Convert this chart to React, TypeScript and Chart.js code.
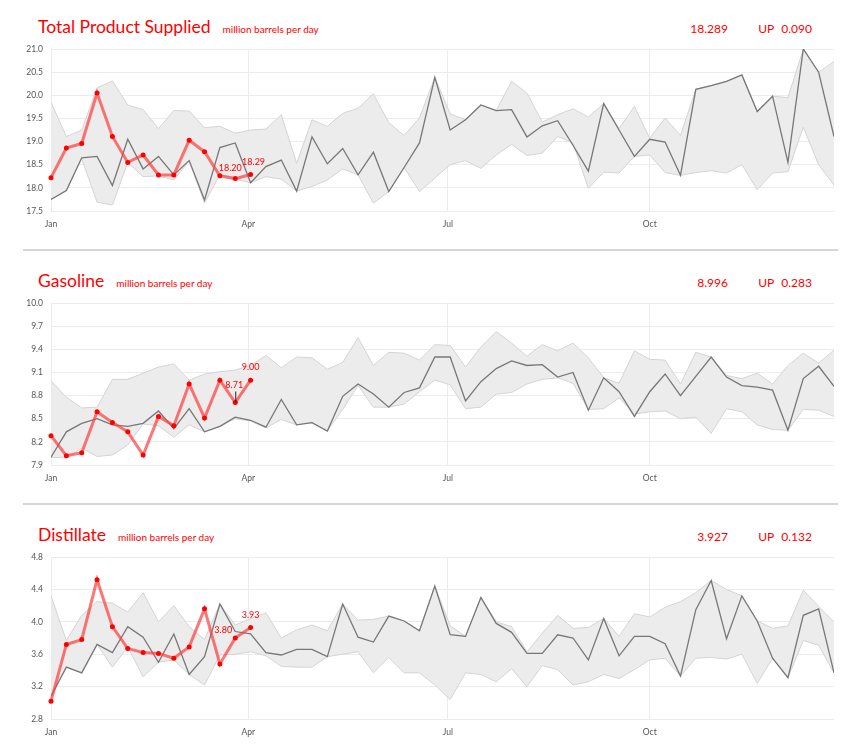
import { useEffect, useRef } from 'react'
import { Chart, registerables } from 'chart.js'

Chart.register(...registerables)

// x positions are days since Jan 1, one point per week
const WEEK_DAYS = 7
const MONTH_DAYS = [0, 90, 181, 273]
const MONTH_LABELS = ['Jan', 'Apr', 'Jul', 'Oct']

const TITLES = ['Total Product Supplied', 'Gasoline', 'Distillate']
const UNIT = 'million barrels per day'
const HEAD_VALUES = ['18.289', '8.996', '3.927']
const HEAD_CHANGES = ['0.090', '0.283', '0.132']

// Total product supplied
const TPS_TICKS = [17.5, 18.0, 18.5, 19.0, 19.5, 20.0, 20.5, 21.0]
const TPS_THIS = [18.22, 18.86, 18.96, 20.05, 19.11, 18.55, 18.71, 18.28, 18.28, 19.03, 18.78, 18.26, 18.20, 18.29]
const TPS_LAST = [17.75, 17.94, 18.65, 18.68, 18.05, 19.05, 18.41, 18.68, 18.28, 18.59, 17.74, 18.87, 18.97, 18.11, 18.46, 18.60, 17.93, 19.10, 18.52, 18.85, 18.28, 18.77, 17.92, 18.44, 18.97, 20.39, 19.25, 19.47, 19.79, 19.67, 19.69, 19.10, 19.34, 19.45, 18.92, 18.36, 19.82, 19.25, 18.68, 19.05, 18.99, 18.27, 20.13, 20.21, 20.30, 20.44, 19.65, 19.98, 18.55, 21.0, 20.50, 19.11]
const TPS_MAX = [19.85, 19.11, 19.25, 20.16, 20.31, 19.79, 19.69, 19.28, 19.67, 19.66, 19.30, 19.33, 19.18, 19.25, 19.27, 19.58, 18.53, 19.47, 19.33, 19.61, 19.72, 20.03, 19.41, 19.13, 19.51, 20.39, 19.60, 19.47, 19.79, 19.67, 20.30, 20.05, 19.42, 19.58, 19.71, 19.53, 19.82, 19.28, 19.76, 19.07, 19.51, 19.13, 20.13, 20.21, 20.30, 20.44, 19.65, 19.98, 19.95, 21.0, 20.50, 20.73]
const TPS_MIN = [17.75, 17.94, 18.63, 17.69, 17.63, 18.55, 18.24, 18.26, 18.17, 18.58, 17.67, 18.28, 18.19, 18.11, 18.24, 18.19, 17.93, 18.03, 18.17, 18.41, 18.28, 17.67, 17.92, 18.44, 17.92, 18.21, 18.50, 18.59, 18.42, 18.71, 18.94, 18.70, 18.75, 19.11, 18.97, 17.99, 18.34, 18.32, 18.68, 18.71, 18.33, 18.27, 18.33, 18.37, 18.32, 18.50, 17.96, 18.32, 18.35, 19.31, 18.50, 18.06]

// Gasoline
const GAS_TICKS = [7.9, 8.2, 8.5, 8.8, 9.1, 9.4, 9.7, 10.0]
const GAS_THIS = [8.28, 8.02, 8.06, 8.59, 8.45, 8.33, 8.03, 8.53, 8.41, 8.95, 8.51, 9.00, 8.71, 9.00]
const GAS_LAST = [8.00, 8.33, 8.44, 8.50, 8.42, 8.40, 8.44, 8.60, 8.37, 8.63, 8.33, 8.40, 8.52, 8.48, 8.39, 8.75, 8.42, 8.45, 8.34, 8.79, 8.95, 8.82, 8.65, 8.84, 8.90, 9.30, 9.30, 8.73, 8.98, 9.15, 9.25, 9.19, 9.20, 9.04, 9.10, 8.61, 9.03, 8.85, 8.53, 8.85, 9.08, 8.80, 9.05, 9.30, 9.04, 8.93, 8.91, 8.87, 8.35, 9.02, 9.18, 8.92]
const GAS_MAX = [8.99, 8.78, 8.64, 8.65, 9.01, 9.01, 9.09, 9.17, 9.21, 9.00, 9.08, 9.11, 9.13, 9.19, 9.32, 9.16, 9.30, 9.29, 9.14, 9.23, 9.55, 9.19, 9.36, 9.35, 9.26, 9.46, 9.45, 9.17, 9.43, 9.63, 9.48, 9.31, 9.46, 9.38, 9.48, 9.29, 9.03, 8.96, 9.38, 9.27, 9.26, 8.95, 9.36, 9.30, 9.06, 9.02, 9.09, 8.95, 9.19, 9.35, 9.22, 9.39]
const GAS_MIN = [8.00, 7.99, 8.12, 8.01, 8.03, 8.16, 8.43, 8.41, 8.26, 8.42, 8.33, 8.40, 8.50, 8.47, 8.38, 8.49, 8.42, 8.45, 8.34, 8.62, 8.93, 8.65, 8.65, 8.69, 8.85, 9.00, 8.94, 8.63, 8.65, 8.82, 8.84, 8.95, 9.01, 9.03, 8.96, 8.62, 8.63, 8.77, 8.56, 8.59, 8.60, 8.50, 8.52, 8.31, 8.63, 8.59, 8.42, 8.36, 8.35, 8.62, 8.61, 8.53]

// Distillate
const DIS_TICKS = [2.8, 3.2, 3.6, 4.0, 4.4, 4.8]
const DIS_THIS = [3.02, 3.72, 3.78, 4.52, 3.94, 3.67, 3.62, 3.61, 3.55, 3.69, 4.16, 3.48, 3.80, 3.93]
const DIS_LAST = [3.08, 3.44, 3.37, 3.72, 3.62, 3.94, 3.81, 3.50, 3.85, 3.35, 3.57, 4.22, 3.88, 3.85, 3.62, 3.59, 3.66, 3.66, 3.57, 4.22, 3.81, 3.75, 4.07, 4.01, 3.89, 4.44, 3.84, 3.82, 4.30, 3.98, 3.87, 3.61, 3.61, 3.84, 3.80, 3.53, 4.04, 3.58, 3.82, 3.82, 3.73, 3.33, 4.15, 4.51, 3.79, 4.32, 4.01, 3.55, 3.31, 4.08, 4.16, 3.37]
const DIS_MAX = [4.32, 3.77, 4.08, 4.25, 4.23, 4.12, 4.36, 4.00, 4.20, 3.94, 3.78, 4.22, 3.96, 4.04, 4.11, 3.80, 3.90, 3.96, 3.89, 4.22, 4.02, 4.03, 4.07, 4.01, 3.89, 4.44, 3.95, 3.82, 4.30, 4.00, 3.94, 3.63, 3.86, 4.08, 3.92, 3.93, 4.04, 3.82, 4.10, 4.06, 4.18, 4.25, 4.36, 4.51, 4.40, 4.32, 4.01, 3.92, 3.95, 4.39, 4.19, 4.00]
const DIS_MIN = [3.08, 3.44, 3.37, 3.72, 3.44, 3.69, 3.32, 3.50, 3.53, 3.35, 3.22, 3.59, 3.60, 3.63, 3.58, 3.45, 3.44, 3.44, 3.57, 3.60, 3.63, 3.37, 3.56, 3.37, 3.37, 3.22, 3.04, 3.37, 3.35, 3.26, 3.42, 3.20, 3.46, 3.41, 3.22, 3.26, 3.35, 3.30, 3.41, 3.53, 3.55, 3.33, 3.55, 3.56, 3.54, 3.60, 3.24, 3.55, 3.31, 3.77, 3.71, 3.37]

const RED = '#ff0000'
const FONT = 'Lato, "Open Sans", sans-serif'

interface PanelProps {
  top: number
  title: string
  value: string
  change: string
  ticks: number[]
  thisYear: number[]
  lastYear: number[]
  hi: number[]
  lo: number[]
  // label offsets for the last two points of this year
  shifts: [number, number][]
  leader?: boolean
}

const toXY = (arr: number[]) => arr.map((y, i) => ({ x: i * WEEK_DAYS, y }))

function Panel({ top, title, value, change, ticks, thisYear, lastYear, hi, lo, shifts, leader }: PanelProps) {
  const chartRef = useRef<HTMLCanvasElement>(null)
  const chartInstance = useRef<Chart | null>(null)

  useEffect(() => {
    if (!chartRef.current) return
    if (chartInstance.current) chartInstance.current.destroy()
    const ctx = chartRef.current.getContext('2d')
    if (!ctx) return

    const lastLabels = {
      id: 'lastLabels',
      afterDatasetsDraw(chart: any) {
        const meta = chart.getDatasetMeta(0)
        const c = chart.ctx
        c.save()
        c.font = `9px ${FONT}`
        c.fillStyle = RED
        c.textAlign = 'center'
        c.textBaseline = 'middle'
        shifts.forEach(([dx, dy], k) => {
          const idx = thisYear.length - shifts.length + k
          const pt = meta.data[idx]
          if (!pt) return
          if (leader && k === 0) {
            c.strokeStyle = '#222'
            c.lineWidth = 1
            c.beginPath()
            c.moveTo(pt.x + 0.5, pt.y + dy + 6)
            c.lineTo(pt.x + 0.5, pt.y)
            c.stroke()
          }
          c.fillText(thisYear[idx].toFixed(2), pt.x + dx, pt.y + dy)
        })
        c.restore()
      },
    }

    chartInstance.current = new Chart(ctx, {
      type: 'line',
      data: {
        datasets: [
          {
            data: toXY(thisYear),
            borderColor: 'rgba(255, 60, 60, 0.7)',
            borderWidth: 3,
            pointRadius: 2.5,
            pointBackgroundColor: RED,
            pointBorderWidth: 0,
            fill: false,
            clip: 6,
          },
          {
            data: toXY(lastYear),
            borderColor: '#777777',
            borderWidth: 1.3,
            pointRadius: 0,
            fill: false,
          },
          {
            data: toXY(hi),
            borderColor: '#d4d4d4',
            borderWidth: 1,
            backgroundColor: '#ececec',
            pointRadius: 0,
            fill: '+1',
          },
          {
            data: toXY(lo),
            borderColor: '#d4d4d4',
            borderWidth: 1,
            pointRadius: 0,
            fill: false,
          },
        ],
      },
      options: {
        responsive: false,
        animation: false,
        events: [],
        layout: { padding: { top: 6, left: 0, right: 0, bottom: 0 } },
        elements: { line: { tension: 0 } },
        plugins: {
          legend: { display: false },
          tooltip: { enabled: false },
          filler: { drawTime: 'beforeDatasetsDraw' },
        },
        scales: {
          x: {
            type: 'linear',
            min: 0,
            max: (lastYear.length - 1) * WEEK_DAYS,
            afterBuildTicks: (scale: any) => {
              scale.ticks = MONTH_DAYS.map((v) => ({ value: v }))
            },
            afterFit: (scale: any) => {
              scale.height = 24
              scale.paddingLeft = 0
              scale.paddingRight = 0
            },
            grid: { color: '#ececec', drawTicks: false },
            border: { display: false },
            ticks: {
              padding: 8,
              color: '#555',
              font: { family: FONT, size: 8.5 },
              maxRotation: 0,
              callback: (v: any) => MONTH_LABELS[MONTH_DAYS.indexOf(Number(v))] ?? '',
            },
          },
          y: {
            min: ticks[0],
            max: ticks[ticks.length - 1],
            afterBuildTicks: (scale: any) => {
              scale.ticks = ticks.map((v) => ({ value: v }))
            },
            afterFit: (scale: any) => {
              scale.width = 51
              scale.paddingTop = 0
              scale.paddingBottom = 0
            },
            grid: { color: '#ececec', drawTicks: false },
            border: { display: false },
            ticks: {
              padding: 8,
              color: '#555',
              font: { family: FONT, size: 8.5 },
              callback: (v: any) => Number(v).toFixed(1),
            },
          },
        },
      },
      plugins: [lastLabels],
    } as any)

    return () => {
      if (chartInstance.current) {
        chartInstance.current.destroy()
        chartInstance.current = null
      }
    }
  }, [])

  return (
    <>
      <div
        style={{
          position: 'absolute',
          left: 38,
          top: top + 18,
          width: 774,
          display: 'flex',
          alignItems: 'baseline',
          lineHeight: '18px',
          color: RED,
          fontFamily: FONT,
          whiteSpace: 'nowrap',
        }}
      >
        <span style={{ fontSize: 17.5 }}>{title}</span>
        <span style={{ fontSize: 10, marginLeft: 12 }}>{UNIT}</span>
        <span style={{ flex: 1 }} />
        <span style={{ fontSize: 12, width: 60, textAlign: 'right', marginRight: 30 }}>{value}</span>
        <span style={{ fontSize: 12, width: 54, textAlign: 'right' }}>
          UP<span style={{ marginLeft: 7 }}>{change}</span>
        </span>
      </div>
      <canvas
        ref={chartRef}
        width={838}
        height={192}
        style={{ position: 'absolute', left: 0, top: top + 43 }}
      />
    </>
  )
}

export default function App() {
  return (
    <div style={{ position: 'absolute', left: 0, top: 0, width: 862, height: 752, background: '#fff' }}>
      <Panel
        top={0}
        title={TITLES[0]}
        value={HEAD_VALUES[0]}
        change={HEAD_CHANGES[0]}
        ticks={TPS_TICKS}
        thisYear={TPS_THIS}
        lastYear={TPS_LAST}
        hi={TPS_MAX}
        lo={TPS_MIN}
        shifts={[[-5, -11], [3, -12]]}
      />
      <div style={{ position: 'absolute', left: 23, top: 249, width: 815, height: 2, background: '#d6d6d6' }} />
      <Panel
        top={254}
        title={TITLES[1]}
        value={HEAD_VALUES[1]}
        change={HEAD_CHANGES[1]}
        ticks={GAS_TICKS}
        thisYear={GAS_THIS}
        lastYear={GAS_LAST}
        hi={GAS_MAX}
        lo={GAS_MIN}
        shifts={[[-1, -17], [0, -13]]}
        leader
      />
      <div style={{ position: 'absolute', left: 23, top: 503, width: 815, height: 2, background: '#d6d6d6' }} />
      <Panel
        top={508}
        title={TITLES[2]}
        value={HEAD_VALUES[2]}
        change={HEAD_CHANGES[2]}
        ticks={DIS_TICKS}
        thisYear={DIS_THIS}
        lastYear={DIS_LAST}
        hi={DIS_MAX}
        lo={DIS_MIN}
        shifts={[[-12, -8], [0, -12]]}
      />
    </div>
  )
}
